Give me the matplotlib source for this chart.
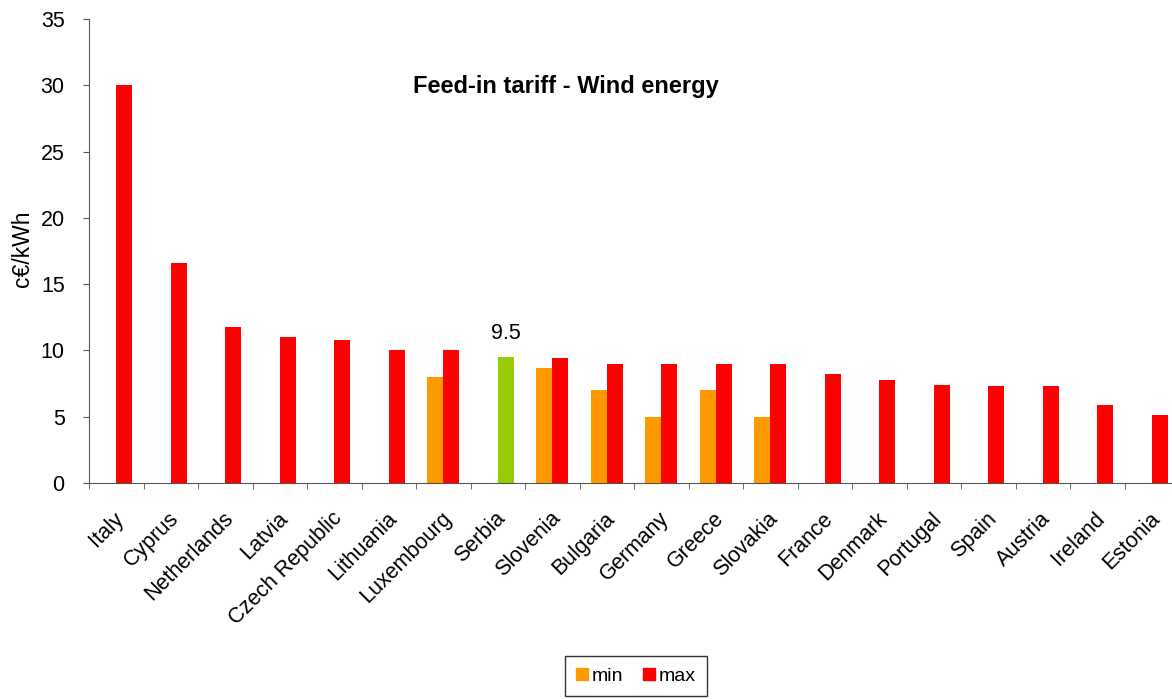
import numpy as np
import matplotlib
matplotlib.use("Agg")
import matplotlib.pyplot as plt
from matplotlib.patches import Patch

plt.rcParams['font.family'] = ['Liberation Sans', 'DejaVu Sans']

countries = ["Italy", "Cyprus", "Netherlands", "Latvia", "Czech Republic", "Lithuania",
             "Luxembourg", "Serbia", "Slovenia", "Bulgaria", "Germany", "Greece",
             "Slovakia", "France", "Denmark", "Portugal", "Spain", "Austria",
             "Ireland", "Estonia"]
min_vals = [np.nan, np.nan, np.nan, np.nan, np.nan, np.nan, 8.0, np.nan, 8.7, 7.0,
            5.0, 7.0, 5.0, np.nan, np.nan, np.nan, np.nan, np.nan, np.nan, np.nan]
max_vals = [30.0, 16.6, 11.8, 11.0, 10.8, 10.0, 10.0, 9.5, 9.4, 9.0,
            9.0, 9.0, 9.0, 8.2, 7.8, 7.4, 7.3, 7.3, 5.9, 5.1]
highlight = "Serbia"

c_min = "#FF9900"
c_max = "#FF0000"
c_hl = "#99CC00"
fs = 15.5

fig = plt.figure(figsize=(11.72, 6.99), dpi=100)
ax = fig.add_axes([89 / 1172, 216 / 699, 1090 / 1172, 464 / 699])

x = np.arange(len(countries)) + 0.5
w = 0.29
max_colors = [c_hl if c == highlight else c_max for c in countries]
ax.bar(x - w / 2, min_vals, width=w, color=c_min)
ax.bar(x + w / 2, max_vals, width=w, color=max_colors)

hi = countries.index(highlight)
ax.text(x[hi] + w / 2, max_vals[hi] + 1.0, f"{max_vals[hi]:.1f}",
        ha="center", va="bottom", fontsize=fs)

ax.set_xlim(0, len(countries))
ax.set_ylim(0, 35)
ax.set_yticks(range(0, 36, 5))
ax.set_xticks(x - 0.05)
ax.set_xticklabels(countries, rotation=45, ha="right", va="top",
                   rotation_mode="anchor", fontsize=fs)
ax.set_xticks(np.arange(0, len(countries) + 1), minor=True)
ax.tick_params(axis="x", which="major", length=0, pad=18)
ax.tick_params(axis="x", which="minor", length=4.5, color="#555555")
ax.tick_params(axis="y", length=4.5, pad=13, labelsize=fs, color="#555555")

for s in ["top", "right"]:
    ax.spines[s].set_visible(False)
for s in ["left", "bottom"]:
    ax.spines[s].set_color("#555555")

fig.text(23 / 1172, 1 - 249 / 699, "c€/kWh", rotation=90, ha="center", va="center",
         fontsize=16.5)
fig.text(566 / 1172, 1 - 87 / 699, "Feed-in tariff - Wind energy", ha="center",
         va="center", fontsize=17, fontweight="bold")

handles = [Patch(color=c_min, label="min"), Patch(color=c_max, label="max")]
fig.legend(handles=handles, loc="upper center", bbox_to_anchor=(636 / 1172, 1 - 656 / 699),
           ncol=2, fontsize=14, frameon=True, fancybox=False, edgecolor="black",
           handlelength=0.6, handleheight=0.6, handletextpad=0.2, columnspacing=1.0,
           borderpad=0.6, borderaxespad=0)

fig.savefig("out.png", dpi=100)
